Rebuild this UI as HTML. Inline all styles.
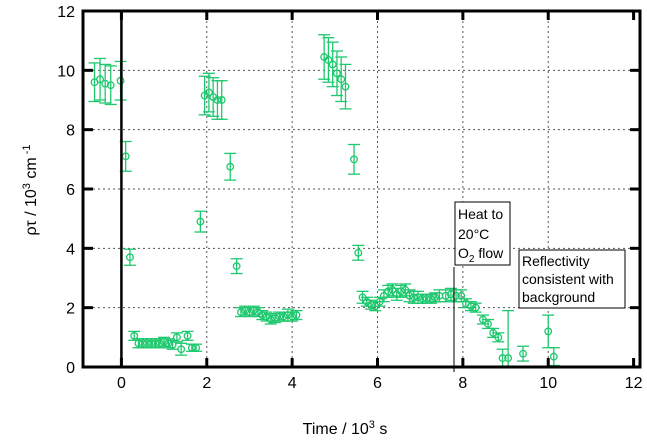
<!DOCTYPE html>
<html><head><meta charset="utf-8"><style>
body{margin:0;background:#fff;}
svg{display:block;font-family:"Liberation Sans",sans-serif;}
</style></head><body>
<svg id="chart" width="647" height="440">
<g id="grid"></g>
<g id="marks"></g>
<g id="axes"></g>
<text x="345" y="434" text-anchor="middle" font-size="16">Time / 10<tspan font-size="11" dy="-6">3</tspan><tspan dy="6"> s</tspan></text>
<text transform="translate(36,190) rotate(-90)" text-anchor="middle" font-size="16">ρτ / 10<tspan font-size="11" dy="-6">3</tspan><tspan dy="6"> cm</tspan><tspan font-size="11" dy="-6"> -1</tspan></text>
<g>
<line x1="454" y1="267" x2="454" y2="372" stroke="#000" stroke-width="1"/>
<rect x="455" y="202" width="55" height="63" fill="#fff" stroke="#000" stroke-width="1"/>
<text x="458" y="219" font-size="14">Heat to</text>
<text x="458" y="239" font-size="14">20°C</text>
<text x="458" y="258" font-size="14">O<tspan font-size="10" dy="4">2</tspan><tspan dy="-4"> flow</tspan></text>
</g>
<g>
<rect x="519" y="250" width="106" height="58" fill="#fff" stroke="#000" stroke-width="1"/>
<text x="522" y="266" font-size="14">Reflectivity</text>
<text x="522" y="284" font-size="14">consistent with</text>
<text x="522" y="302" font-size="14">background</text>
</g>
</svg>
<script>
const xs=[-0.63,-0.5,-0.38,-0.25,-0.02,0.1,0.2,0.3,0.4,0.5,0.6,0.7,0.8,0.9,1.0,1.1,1.2,1.3,1.4,1.55,1.65,1.75,1.85,1.95,2.05,2.15,2.25,2.35,2.55,2.7,2.8,2.9,3.0,3.1,3.2,3.3,3.4,3.5,3.6,3.7,3.8,3.9,4.0,4.1,4.75,4.85,4.95,5.05,5.15,5.25,5.45,5.55,5.65,5.75,5.85,5.95,6.05,6.15,6.25,6.35,6.45,6.55,6.65,6.75,6.85,6.95,7.05,7.15,7.25,7.35,7.45,7.6,7.72,7.84,7.96,8.07,8.19,8.3,8.47,8.59,8.71,8.83,8.93,9.06,9.41,10.0,10.13];
const ys=[9.6,9.7,9.55,9.5,9.65,7.1,3.7,1.05,0.8,0.8,0.8,0.8,0.8,0.8,0.85,0.8,0.75,1.0,0.6,1.05,0.65,0.65,4.9,9.15,9.25,9.1,9.0,9.0,6.75,3.4,1.85,1.9,1.85,1.9,1.85,1.75,1.7,1.6,1.65,1.7,1.7,1.75,1.7,1.75,10.45,10.35,10.2,9.9,9.7,9.45,7.0,3.85,2.35,2.2,2.1,2.05,2.2,2.4,2.55,2.6,2.45,2.55,2.6,2.4,2.35,2.35,2.3,2.3,2.3,2.35,2.4,2.4,2.45,2.4,2.4,2.15,2.05,2.0,1.6,1.45,1.15,1.0,0.3,0.3,0.45,1.2,0.35];
const errs=[0.65,0.7,0.65,0.65,0.65,0.5,0.27,0.15,0.15,0.15,0.15,0.15,0.15,0.15,0.15,0.15,0.15,0.15,0.2,0.15,0.12,0.12,0.35,0.65,0.65,0.65,0.65,0.65,0.45,0.25,0.15,0.15,0.15,0.15,0.15,0.15,0.15,0.15,0.15,0.15,0.15,0.2,0.15,0.15,0.75,0.75,0.75,0.75,0.75,0.75,0.5,0.25,0.2,0.15,0.15,0.15,0.15,0.2,0.2,0.2,0.2,0.2,0.2,0.2,0.2,0.2,0.15,0.15,0.15,0.15,0.2,0.2,0.2,0.2,0.2,0.15,0.15,0.15,0.15,0.15,0.15,0.15,0.3,1.6,0.25,0.55,0.3];
const xTicks=[0,2,4,6,8,10,12];
const yTicks=[0,2,4,6,8,10,12];
const X0=83,X1=640,Y0=367,Y1=11,XMIN=-0.9,XMAX=12.15,YMIN=0,YMAX=12;
const xp=v=>X0+(v-XMIN)/(XMAX-XMIN)*(X1-X0);
const yp=v=>Y0-(v-YMIN)/(YMAX-YMIN)*(Y0-Y1);
const NS="http://www.w3.org/2000/svg";
function mk(p,tag,at){const e=document.createElementNS(NS,tag);for(const k in at)e.setAttribute(k,at[k]);p.appendChild(e);return e;}
const grid=document.getElementById('grid'),axes=document.getElementById('axes'),marks=document.getElementById('marks');
xTicks.forEach(t=>{const x=xp(t);
 if(t>0&&t<12){const g=mk(grid,'line',{x1:x,x2:x,y1:Y1,y2:Y0,stroke:'#555','stroke-dasharray':'2,3','stroke-width':1});
 
 }
 mk(axes,'line',{x1:x,x2:x,y1:Y0,y2:Y0-9,stroke:'#000','stroke-width':3});
 mk(axes,'line',{x1:x,x2:x,y1:Y1,y2:Y1+9,stroke:'#000','stroke-width':3});
 const l=mk(axes,'text',{x:x,y:Y0+21,'text-anchor':'middle','font-size':16});l.textContent=t;
 
 
});
yTicks.forEach(t=>{const y=yp(t);
 if(t>0&&t<12){const g=mk(grid,'line',{x1:X0,x2:X1,y1:y,y2:y,stroke:'#555','stroke-dasharray':'2,3','stroke-width':1});
 
 }
 mk(axes,'line',{x1:X0,x2:X0+10,y1:y,y2:y,stroke:'#000','stroke-width':3});
 mk(axes,'line',{x1:X1,x2:X1-10,y1:y,y2:y,stroke:'#000','stroke-width':3});
 const l=mk(axes,'text',{x:X0-8,y:y+6,'text-anchor':'end','font-size':16});l.textContent=t;
 
 
});
mk(axes,'rect',{x:X0,y:Y1,width:X1-X0,height:Y0-Y1,fill:'none',stroke:'#000','stroke-width':3});
mk(axes,'line',{x1:xp(0),x2:xp(0),y1:Y1,y2:Y0,stroke:'#000','stroke-width':2.5});
const C='#1ec86e';
xs.forEach((v,i)=>{const x=xp(v),y=yp(ys[i]),ya=yp(Math.min(ys[i]+errs[i],12)),yb=yp(Math.max(ys[i]-errs[i],0));
 const g=mk(marks,'g',{stroke:C,fill:'none','stroke-width':1.3});
 
 
 mk(g,'line',{x1:x,x2:x,y1:ya,y2:yb});
 mk(g,'line',{x1:x-6,x2:x+6,y1:ya,y2:ya});
 mk(g,'line',{x1:x-6,x2:x+6,y1:yb,y2:yb});
 mk(g,'circle',{cx:x,cy:y,r:3.3});
});
</script>
</body></html>
